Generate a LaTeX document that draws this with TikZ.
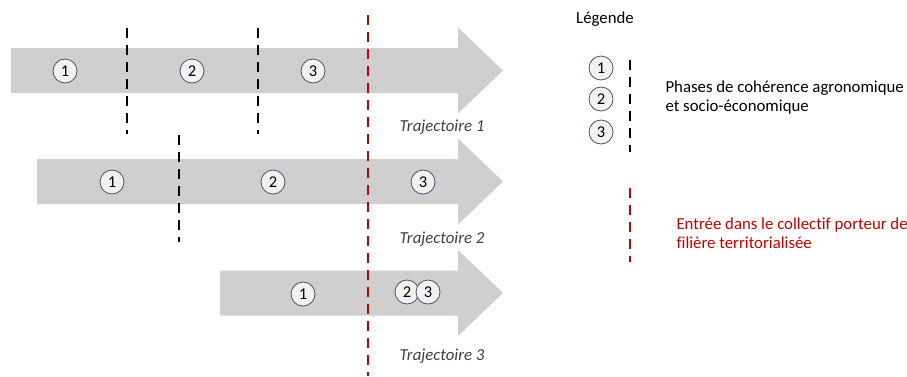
\documentclass[tikz,border=0pt]{standalone}
\usepackage{fontspec}
\setmainfont{Carlito}[Ligatures=NoCommon]
\usepackage{tikz}
\usetikzlibrary{positioning}
\tikzset{phase/.style = {circle, draw=phasedge, fill=phasefill, line width=0.8, inner sep=0, minimum size=24, font=\fontsize{16.5}{19}\selectfont}}
\tikzset{cut/.style = {line width=2.4, dash pattern=on 10 off 7}}
\tikzset{traj/.style = {font=\fontsize{16.8}{20}\selectfont\itshape, text=trajgrey}}
\tikzset{legtext/.style = {font=\fontsize{16.8}{19}\selectfont, align=left, anchor=west}}
\definecolor{arrowgrey}{HTML}{D0CECE}
\definecolor{phasefill}{HTML}{F2F2F2}
\definecolor{phasedge}{HTML}{44546A}
\definecolor{mred}{HTML}{C00000}
\definecolor{trajgrey}{HTML}{404040}

\begin{document}
\begin{tikzpicture}[x=1pt, y=-1pt]
      \useasboundingbox (0, 0) rectangle (907, 376);

      % big grey arrows
      \foreach \xs/\yc in {11/70.5, 37/181.5, 220/293} {
        \fill [arrowgrey] (\xs, \yc-22.5) -- (458, \yc-22.5) -- (458, \yc-43) -- (503, \yc)
          -- (458, \yc+43) -- (458, \yc+22.5) -- (\xs, \yc+22.5) -- cycle;
      }

      % phase limits
      \draw [cut] (127, 28) -- (127, 134);
      \draw [cut] (258, 28) -- (258, 134);
      \draw [cut] (179, 135) -- (179, 242);
      \draw [cut, mred] (368, 15) -- (368, 376);

      % trajectoire 1
      \node [phase] (a1) at (65, 71) {1};
      \node [phase] (a2) at (192, 71) {2};
      \node [phase] (a3) at (313, 71) {3};
      \node [traj] (t1) at (442, 127) {Trajectoire 1};

      % trajectoire 2
      \node [phase] (b1) at (112, 182) {1};
      \node [phase] (b2) at (273, 182) {2};
      \node [phase] (b3) at (423, 182) {3};
      \node [traj] (t2) at (442, 239) {Trajectoire 2};

      % trajectoire 3
      \node [phase] (c1) at (303, 294) {1};
      \node [phase] (c2) at (407, 292) {2};
      \node [phase] (c3) at (428, 292) {3};
      \node [traj] (t3) at (442, 356) {Trajectoire 3};

      % legende
      \node [font=\fontsize{16.8}{19}\selectfont] (leg) at (605, 19) {Légende};
      \foreach \n/\y in {1/68, 2/99, 3/132} {
        \node [phase] (l\n) at (601, \y) {\n};
      }
      \draw [cut] (630, 60) -- (630, 152);
      \node [legtext] (lphase) at (662, 98)
        {Phases de cohérence agronomique\\et socio-économique};
      \draw [cut, mred] (630, 188) -- (630, 262);
      \node [legtext, text=mred] (lred) at (673, 233)
        {Entrée dans le collectif porteur de\\filière territorialisée};
    \end{tikzpicture}
\end{document}
